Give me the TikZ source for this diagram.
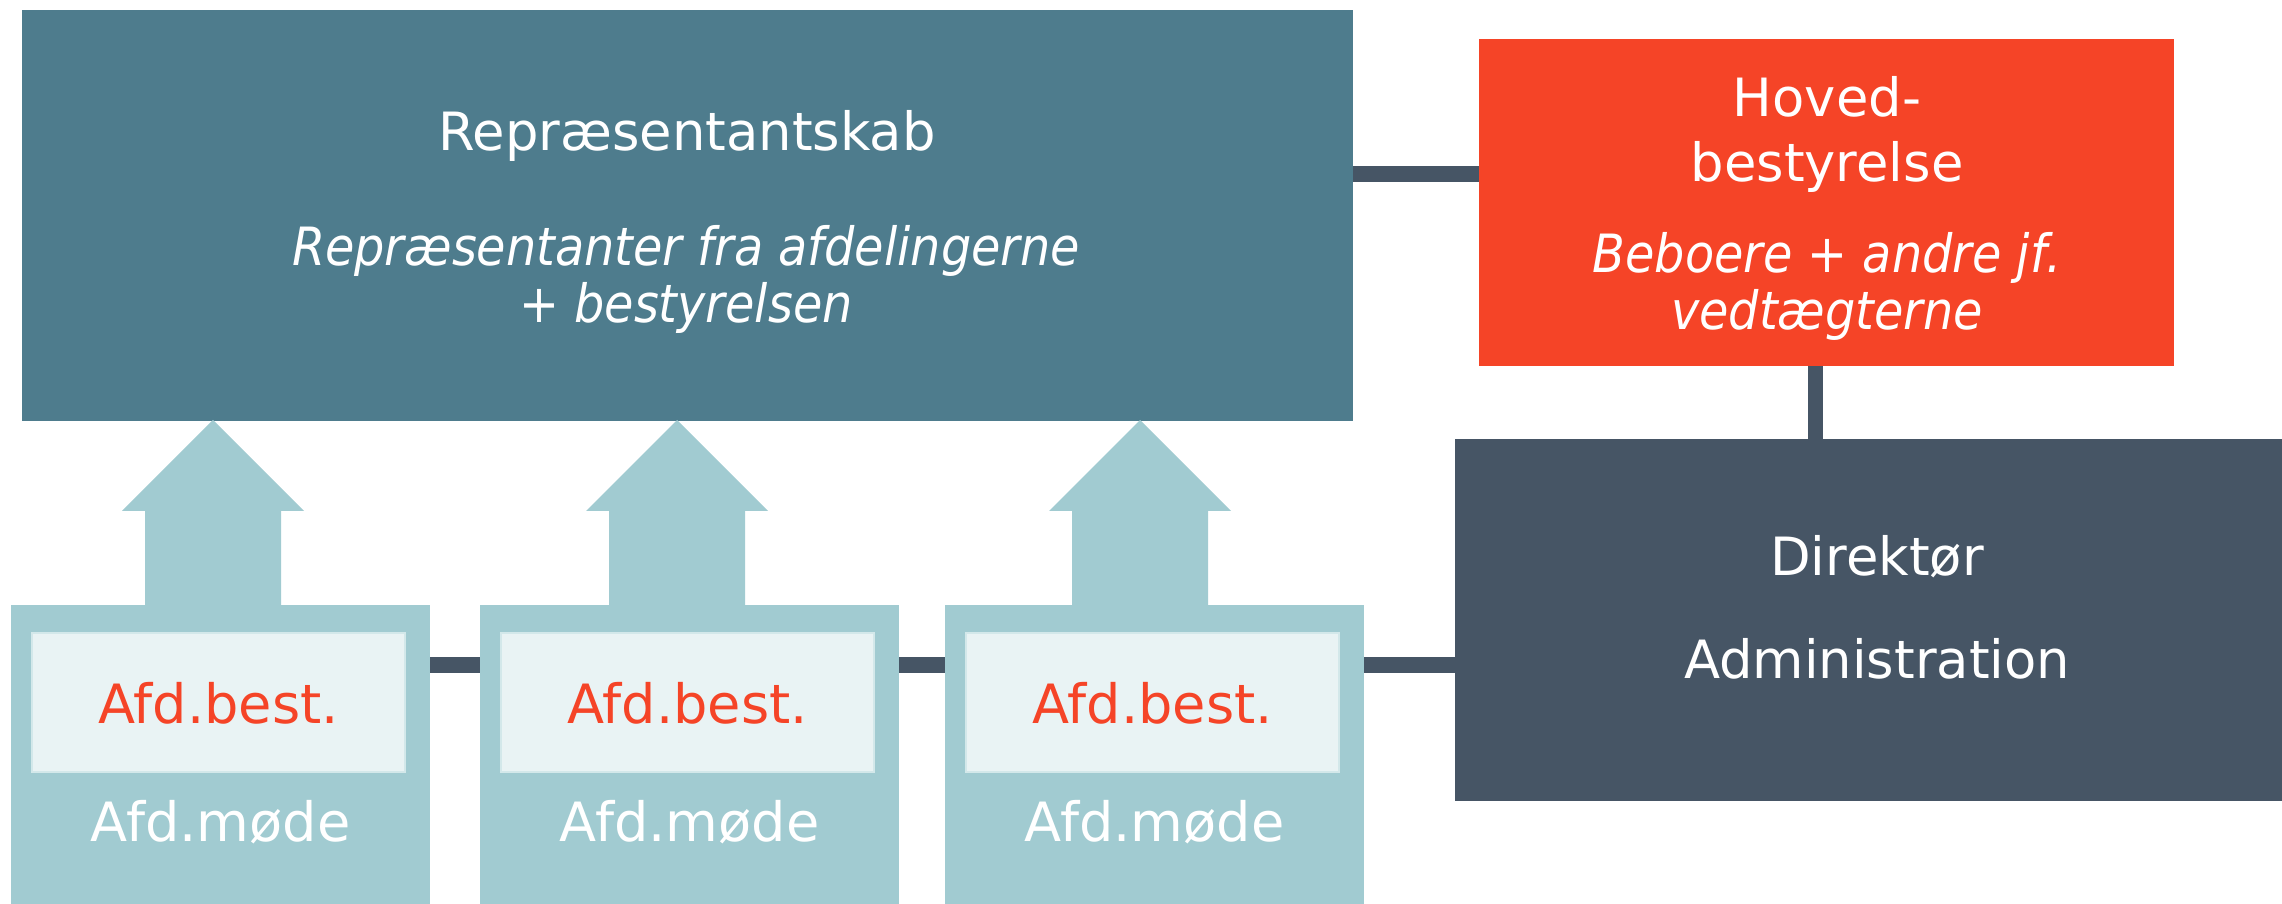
\documentclass[tikz,border=0pt]{standalone}
\usepackage{fontspec}
\setmainfont{DejaVu Sans}
\newfontfamily\subfont[FakeStretch=0.905]{DejaVu Sans}
\definecolor{repblue}{HTML}{4E7C8D}
\definecolor{hovred}{HTML}{F54427}
\definecolor{dirgrey}{HTML}{465565}
\definecolor{pale}{HTML}{A1CBD1}
\definecolor{paler}{HTML}{E9F3F4}
\definecolor{paleedge}{HTML}{D3E8EA}

\begin{document}
\begin{tikzpicture}[x=0.01cm, y=-0.01cm,
    box/.style={rectangle, inner sep=0pt, outer sep=0pt, anchor=north west},
    txt/.style={text=white, anchor=base, inner sep=0pt, font=\fontsize{15}{18}\selectfont},
    subtxt/.style={txt, font=\subfont\fontsize{15}{18}\selectfont\itshape},
    afdtxt/.style={txt, font=\fontsize{15.4}{18}\selectfont},
    link/.style={draw=dirgrey, line width=0.16cm}]
\useasboundingbox (0,0) rectangle (2282,904);
\node[box, fill=repblue, minimum width=13.30cm, minimum height=4.11cm] (rep) at (22,10) {};
\node[box, fill=hovred, minimum width=6.95cm, minimum height=3.27cm] (hoved) at (1479,39) {};
\node[box, fill=dirgrey, minimum width=8.27cm, minimum height=3.62cm] (dir) at (1455,439) {};
\foreach \n/\x/\ax in {1/11/213, 2/480/677, 3/945/1140}
    {
    \fill[pale] (\ax,420) -- (\ax+91,511) -- (\ax+68,511) -- (\ax+68,606)
        -- (\ax-68,606) -- (\ax-68,511) -- (\ax-91,511) -- cycle;
    \node[box, fill=pale, minimum width=4.19cm, minimum height=2.99cm] (afd\n) at (\x,605) {};
    \node[box, fill=paler, draw=paleedge, line width=0.02cm,
        minimum width=3.73cm, minimum height=1.39cm] (best\n) at (\x+21,633) {};
    \node[afdtxt, text=hovred] (bestname\n) at (best\n.center |- 0,724) {Afd.best.};
    \node[afdtxt] (modename\n) at (afd\n.center |- 0,842) {Afd.møde};
    }
\draw[link] (rep.east |- 0,174) -- (hoved.west |- 0,174);
\draw[link, line width=0.15cm] (hoved.south -| 1815,0) -- (dir.north -| 1815,0);
\draw[link] (afd1.east |- 0,665) -- (afd2.west |- 0,665);
\draw[link] (afd2.east |- 0,665) -- (afd3.west |- 0,665);
\draw[link] (afd3.east |- 0,665) -- (dir.west |- 0,665);
\node[txt] (reptitle) at (687,151) {Repræsentantskab};
\node[subtxt] (repsub1) at (686,266) {Repræsentanter fra afdelingerne};
\node[subtxt] (repsub2) at (686,323) {+ bestyrelsen};
\node[txt] (hovtitle1) at (1827,117) {Hoved-};
\node[txt] (hovtitle2) at (1827,182) {bestyrelse};
\node[subtxt] (hovsub1) at (1827,273) {Beboere + andre jf.};
\node[subtxt] (hovsub2) at (1827,330) {vedtægterne};
\node[txt] (dirtitle) at (1877,576) {Direktør};
\node[txt] (admtitle) at (1877,679) {Administration};
\end{tikzpicture}
\end{document}
